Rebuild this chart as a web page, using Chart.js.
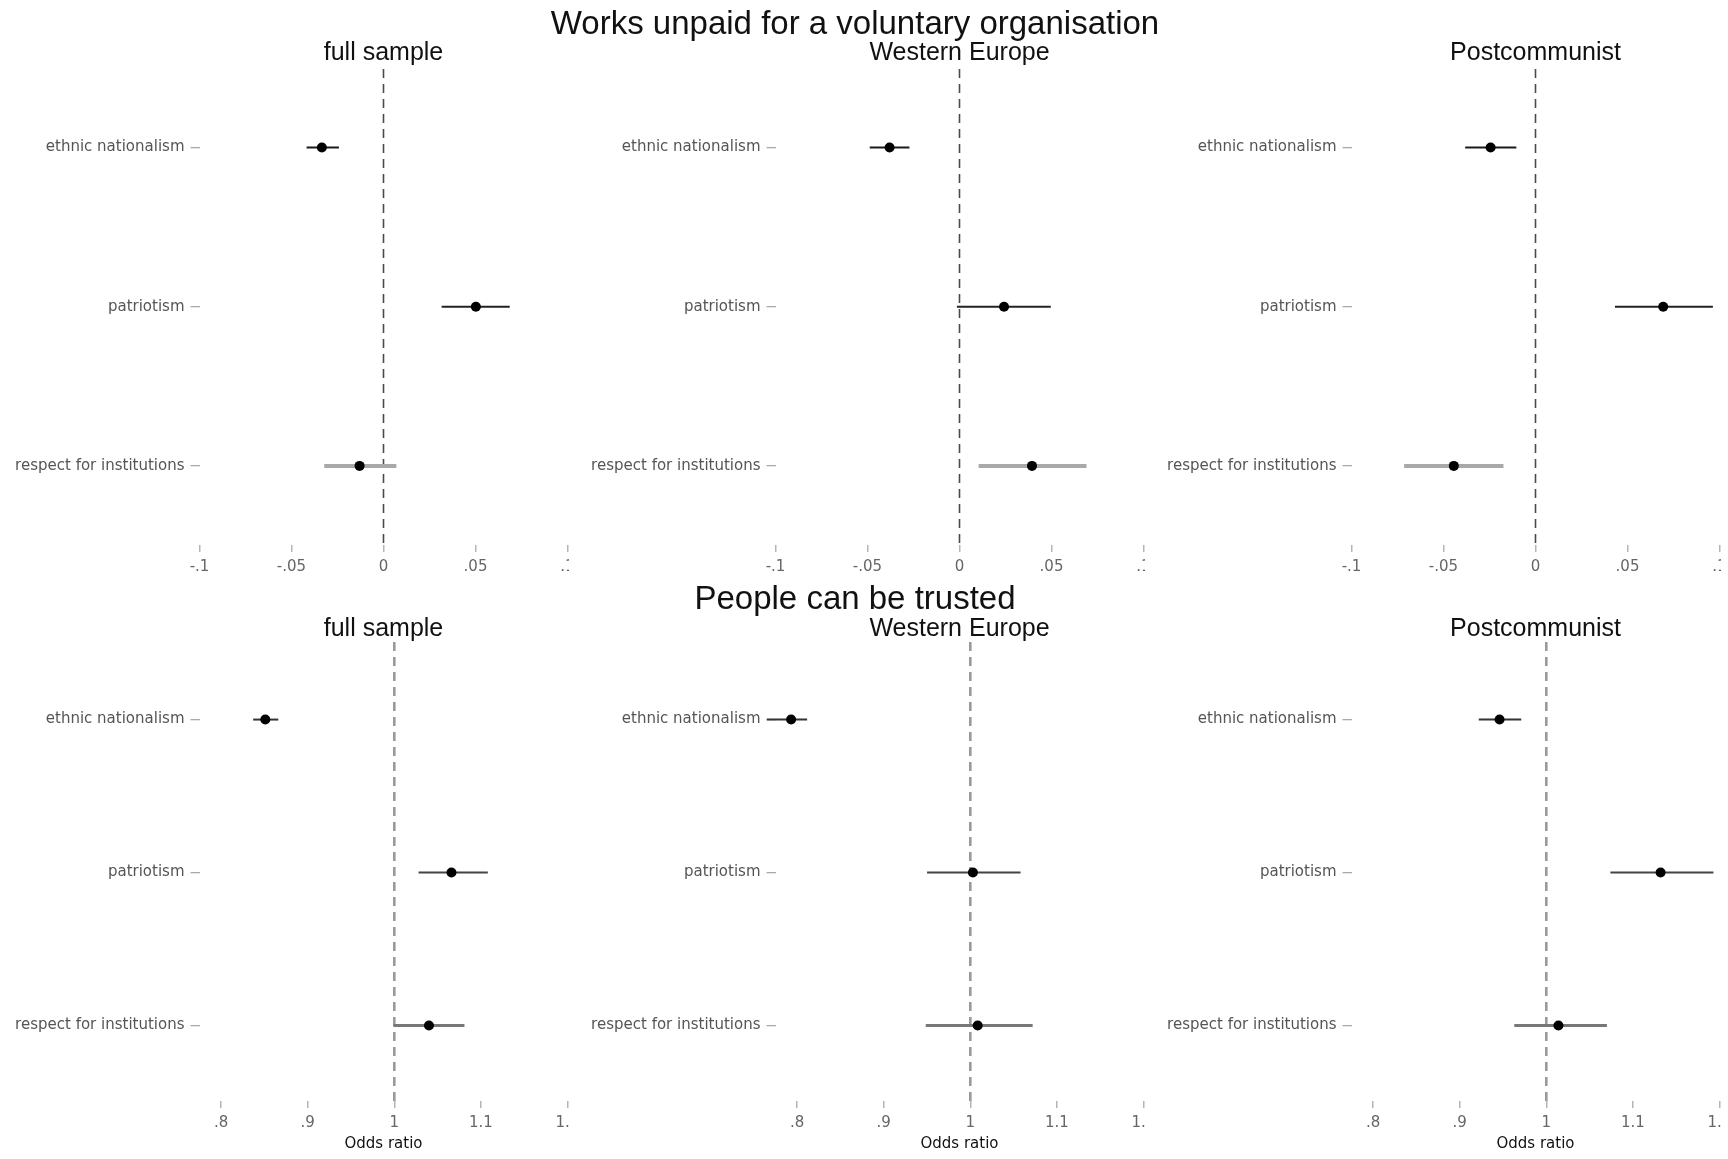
<!DOCTYPE html>
<html>
<head>
<meta charset="utf-8">
<script src="https://cdn.jsdelivr.net/npm/chart.js@4.4.1/dist/chart.umd.min.js"></script>
<style>
    body { margin: 0; background: #fff; }
    #page { position: relative; width: 1728px; height: 1159px; overflow: hidden; background: #fff; }
    .title { position: absolute; transform: translate(-50%, -50%); white-space: nowrap;
             font-family: "Liberation Sans", Arial, sans-serif; color: #111; }
    .main { font-size: 33px; }
    .sub { font-size: 25px; }
    .panel { position: absolute; overflow: hidden; }
</style>
</head>
<body>
<div id="page"></div>
<script>
// Coefficient / odds-ratio plots - 2 rows x 3 samples

const categories = ['ethnic nationalism', 'patriotism', 'respect for institutions'];
const panelTitles = ['full sample', 'Western Europe', 'Postcommunist'];
const rowTitles = ['Works unpaid for a voluntary organisation', 'People can be trusted'];

const volTicks = [-0.1, -0.05, 0, 0.05, 0.1];
const volTickLabels = ['-.1', '-.05', '0', '.05', '.1'];
const oddsTicks = [0.8, 0.9, 1, 1.1, 1.2];
const oddsTickLabels = ['.8', '.9', '1', '1.1', '1.2'];

// Works unpaid for a voluntary organisation (coefficients)
const volFullEst = [-0.0335, 0.0502, -0.0130];
const volFullLo  = [-0.0418, 0.0316, -0.0322];
const volFullHi  = [-0.0242, 0.0686, 0.0070];
const volWestEst = [-0.0380, 0.0242, 0.0394];
const volWestLo  = [-0.0488, -0.0014, 0.0104];
const volWestHi  = [-0.0272, 0.0496, 0.0690];
const volPostEst = [-0.0244, 0.0694, -0.0444];
const volPostLo  = [-0.0382, 0.0432, -0.0714];
const volPostHi  = [-0.0104, 0.0964, -0.0174];

// People can be trusted (odds ratios)
const trustFullEst = [0.851, 1.066, 1.040];
const trustFullLo  = [0.837, 1.028, 0.999];
const trustFullHi  = [0.866, 1.108, 1.081];
const trustWestEst = [0.793, 1.003, 1.0085];
const trustWestLo  = [0.765, 0.950, 0.9485];
const trustWestHi  = [0.8115, 1.058, 1.072];
const trustPostEst = [0.946, 1.132, 1.014];
const trustPostLo  = [0.922, 1.074, 0.963];
const trustPostHi  = [0.971, 1.193, 1.070];

const FONT = '"DejaVu Sans", Verdana, sans-serif';
const PANEL_W = 576;
const CANVAS_W = 600;
const PLOT_LEFT = 199.5;
const PLOT_RIGHT = 567.5;

const rows = [
    {
        top: 0, height: 585, padTop: 69, xHeight: 40, titleY: 23, subY: 51,
        xMin: -0.1, xMax: 0.1, yMin: 0.507, yMax: 3.497, ref: 0,
        ticks: volTicks, tickLabels: volTickLabels, xTitle: '',
        refColor: '#4a4a4a', refWidth: 1.6,
        ciColors: ['#1a1a1a', '#222', '#a9a9a9'], ciWidths: [2.2, 2, 4],
        panels: [
            [volFullEst, volFullLo, volFullHi],
            [volWestEst, volWestLo, volWestHi],
            [volPostEst, volPostLo, volPostHi]
        ]
    },
    {
        top: 585, height: 574, padTop: 57, xHeight: 58, titleY: 598, subY: 627,
        xMin: 0.775, xMax: 1.2, yMin: 0.493, yMax: 3.493, ref: 1,
        ticks: oddsTicks, tickLabels: oddsTickLabels, xTitle: 'Odds ratio',
        refColor: '#9a9a9a', refWidth: 2.6,
        ciColors: ['#333', '#444', '#777'], ciWidths: [2, 2, 3],
        panels: [
            [trustFullEst, trustFullLo, trustFullHi],
            [trustWestEst, trustWestLo, trustWestHi],
            [trustPostEst, trustPostLo, trustPostHi]
        ]
    }
];

const page = document.getElementById('page');

function addText(text, cls, x, y) {
    const el = document.createElement('div');
    el.className = 'title ' + cls;
    el.textContent = text;
    el.style.left = x + 'px';
    el.style.top = y + 'px';
    page.appendChild(el);
}

function buildPanel(row, col) {
    const [est, lo, hi] = row.panels[col];

    const wrap = document.createElement('div');
    wrap.className = 'panel';
    wrap.style.left = (col * PANEL_W) + 'px';
    wrap.style.top = row.top + 'px';
    wrap.style.width = '569px';
    wrap.style.height = row.height + 'px';
    const canvas = document.createElement('canvas');
    canvas.width = CANVAS_W;
    canvas.height = row.height;
    wrap.appendChild(canvas);
    page.appendChild(wrap);

    // points first so they sit on top
    const datasets = [{
        data: est.map((v, i) => ({ x: v, y: i + 1 })),
        pointRadius: 5,
        pointBackgroundColor: '#000',
        pointBorderWidth: 0,
        clip: false
    }];

    // confidence intervals
    categories.forEach((c, i) => {
        datasets.push({
            data: [{ x: lo[i], y: i + 1 }, { x: hi[i], y: i + 1 }],
            showLine: true,
            pointRadius: 0,
            borderColor: row.ciColors[i],
            borderWidth: row.ciWidths[i],
            clip: false
        });
    });

    // reference line
    datasets.push({
        data: [{ x: row.ref, y: row.yMin }, { x: row.ref, y: row.yMax }],
        showLine: true,
        pointRadius: 0,
        borderColor: row.refColor,
        borderWidth: row.refWidth,
        borderDash: [9, 6]
    });

    new Chart(canvas, {
        type: 'scatter',
        data: { datasets: datasets },
        options: {
            responsive: false,
            animation: false,
            devicePixelRatio: 1,
            layout: {
                padding: { left: 0, right: CANVAS_W - PLOT_RIGHT, top: row.padTop, bottom: 0 }
            },
            plugins: {
                legend: { display: false },
                tooltip: { enabled: false }
            },
            scales: {
                x: {
                    type: 'linear',
                    min: row.xMin,
                    max: row.xMax,
                    afterBuildTicks: axis => { axis.ticks = row.ticks.map(v => ({ value: v })); },
                    afterFit: axis => { axis.height = row.xHeight; },
                    ticks: {
                        color: '#666',
                        font: { family: FONT, size: 15 },
                        padding: 6,
                        maxRotation: 0,
                        autoSkip: false,
                        callback: (value, index) => row.tickLabels[index]
                    },
                    grid: {
                        drawOnChartArea: false,
                        drawTicks: true,
                        tickLength: 7,
                        color: '#b5b5b5',
                        lineWidth: 1.5
                    },
                    border: { display: false },
                    title: {
                        display: row.xTitle !== '',
                        text: row.xTitle,
                        color: '#111',
                        font: { family: FONT, size: 15 },
                        padding: { top: 0, bottom: 6 }
                    }
                },
                y: {
                    type: 'linear',
                    reverse: true,
                    min: row.yMin,
                    max: row.yMax,
                    afterBuildTicks: axis => { axis.ticks = categories.map((c, i) => ({ value: i + 1 })); },
                    afterFit: axis => { axis.width = PLOT_LEFT; },
                    ticks: {
                        color: '#555',
                        font: { family: FONT, size: 15 },
                        padding: 6,
                        autoSkip: false,
                        callback: (value, index) => categories[index]
                    },
                    grid: {
                        drawOnChartArea: false,
                        drawTicks: true,
                        tickLength: 9,
                        color: '#aaa',
                        lineWidth: 1.3
                    },
                    border: { display: false }
                }
            }
        }
    });

    addText(panelTitles[col], 'sub', col * PANEL_W + (PLOT_LEFT + PLOT_RIGHT) / 2, row.subY);
}

rows.forEach((row, r) => {
    row.panels.forEach((p, col) => buildPanel(row, col));
    addText(rowTitles[r], 'main', 855, row.titleY);
});
</script>
</body>
</html>
